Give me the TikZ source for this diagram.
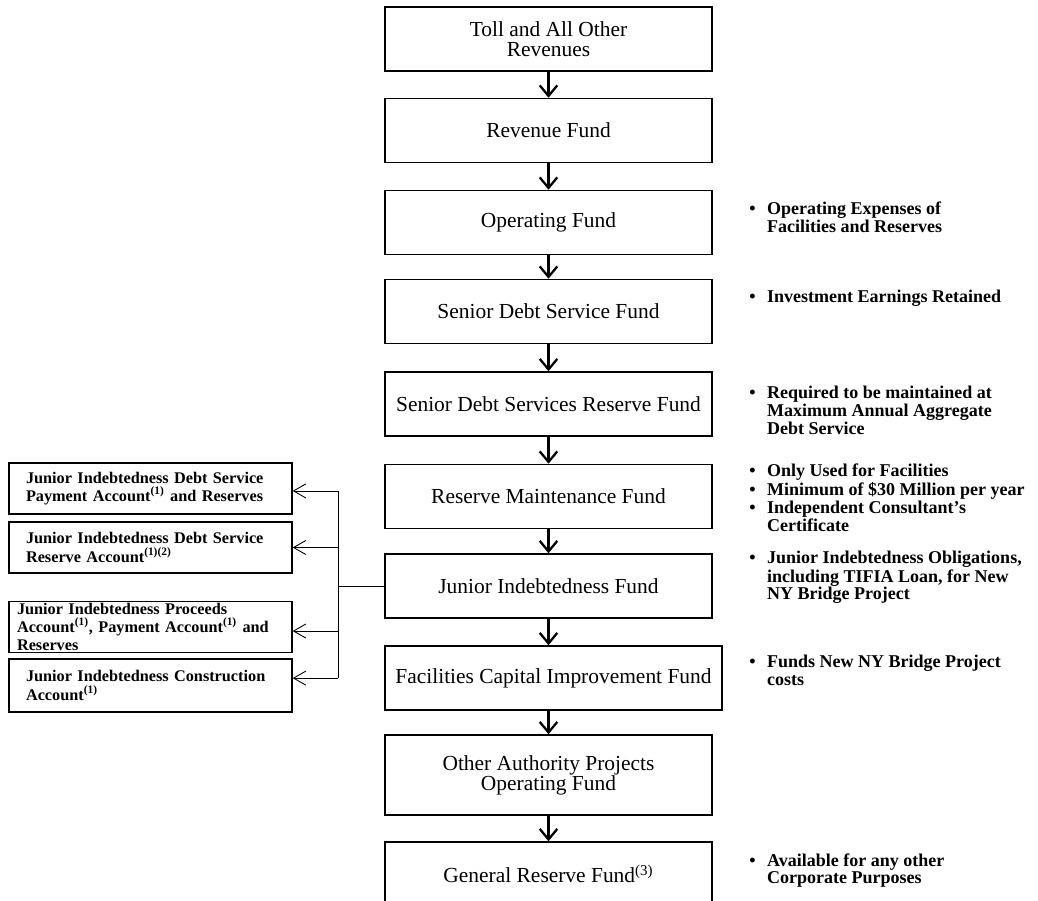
\documentclass[tikz,border=0pt]{standalone}
\usepackage{fontspec}
\setmainfont{Liberation Serif}
\usetikzlibrary{arrows.meta}
\newcommand{\noteitems}[1]{\begin{tabular}[t]{@{}l@{\hspace{6.5pt}}l@{}}#1\end{tabular}}
\begin{document}
\begin{tikzpicture}[x=0.02cm, y=-0.02cm,
		fund/.style={draw, line width=0.9pt, minimum width=6.54cm, minimum height=1.28cm, align=center, font=\fontsize{12.2}{11.5}\selectfont},
		acct/.style={draw, line width=0.8pt, minimum height=1.02cm, text width=4.98cm, inner xsep=0.34cm, align=left, font=\bfseries\fontsize{9.25}{10.4}\selectfont},
		note/.style={anchor=base west, inner sep=0pt, font=\bfseries\fontsize{10.25}{10.2}\selectfont},
		flow/.style={-{Straight Barb[length=6pt,width=10pt]}, line width=1.3pt},
		branch/.style={-{Straight Barb[length=7pt,width=8pt]}, line width=0.5pt}]
			\useasboundingbox (0,0) rectangle (1038,901);
			
			% main column of funds
			\node[fund] (toll) at (548.5,39) {Toll and All Other\\Revenues};
			\node[fund] (revenue) at (548.5,130.5) {Revenue Fund};
			\node[fund] (operating) at (548.5,222.5) {Operating Fund};
			\node[fund] (seniorDS) at (548.5,311.5) {Senior Debt Service Fund};
			\node[fund] (seniorDSR) at (548.5,404) {Senior Debt Services Reserve Fund};
			\node[fund] (reserveMaint) at (548.5,496.5) {Reserve Maintenance Fund};
			\node[fund] (junior) at (548.5,586) {Junior Indebtedness Fund};
			\node[fund, minimum width=6.74cm] (facilities) at (553.5,678) {Facilities Capital Improvement Fund};
			\node[fund, minimum height=1.6cm] (otherAuth) at (548.5,775) {Other Authority Projects\\Operating Fund};
			\node[fund] (generalRes) at (548.5,874) {General Reserve Fund\textsuperscript{(3)}};
			
			\coordinate (spine) at (548.5,0);
			\foreach \a/\b in {toll/revenue, revenue/operating, operating/seniorDS, seniorDS/seniorDSR, seniorDSR/reserveMaint, reserveMaint/junior, junior/facilities, facilities/otherAuth, otherAuth/generalRes}
				\draw[flow] (\a.south -| spine) -- (\b.north -| spine);
			
			% junior indebtedness accounts
			\node[acct] (jdsPay) at (150.5,488.5) {Junior Indebtedness Debt Service\\Payment Account\textsuperscript{(1)} and Reserves};
			\node[acct] (jdsRes) at (150.5,547.5) {Junior Indebtedness Debt Service\\Reserve Account\textsuperscript{(1)(2)}};
			\node[acct, inner xsep=0.16cm, text width=5.34cm, inner ysep=0pt] (jProceeds) at (150.5,627) {Junior Indebtedness Proceeds\\Account\textsuperscript{(1)}, Payment Account\textsuperscript{(1)} and\\Reserves};
			\node[acct, minimum height=1.06cm] (jConstr) at (150.5,685.5) {Junior Indebtedness Construction\\Account\textsuperscript{(1)}};
			
			\coordinate (bus) at (338,586);
			\coordinate (toPay) at ([yshift=-1.4pt]jdsPay.east);
			\coordinate (toRes) at (jdsRes.east);
			\coordinate (toProceeds) at ([yshift=-2.3pt]jProceeds.east);
			\coordinate (toConstr) at ([yshift=4.2pt]jConstr.east);
			\draw[line width=0.5pt] (junior.west) -- (bus);
			\draw[line width=0.5pt] (toPay -| bus) -- (toConstr -| bus);
			\foreach \t in {toPay, toRes, toProceeds, toConstr}
				\draw[branch] (\t -| bus) -- (\t);
			
			% notes beside the funds
			\node[note] (noteOper) at (749,215) {\noteitems{\textbullet & Operating Expenses of\\ & Facilities and Reserves}};
			\node[note] (noteSenior) at (749,303) {\noteitems{\textbullet & Investment Earnings Retained}};
			\node[note] (noteReserve) at (749,399) {\noteitems{\textbullet & Required to be maintained at\\ & Maximum Annual Aggregate\\ & Debt Service}};
			\node[note] (noteMaint) at (749,477) {\noteitems{\textbullet & Only Used for Facilities\\ \textbullet & Minimum of \$30 Million per year\\ \textbullet & Independent Consultant's\\ & Certificate}};
			\node[note] (noteJunior) at (749,564) {\noteitems{\textbullet & Junior Indebtedness Obligations,\\ & including TIFIA Loan, for New\\ & NY Bridge Project}};
			\node[note] (noteFac) at (749,668) {\noteitems{\textbullet & Funds New NY Bridge Project\\ & costs}};
			\node[note] (noteGeneral) at (749,866) {\noteitems{\textbullet & Available for any other\\ & Corporate Purposes}};
	\end{tikzpicture}
\end{document}
